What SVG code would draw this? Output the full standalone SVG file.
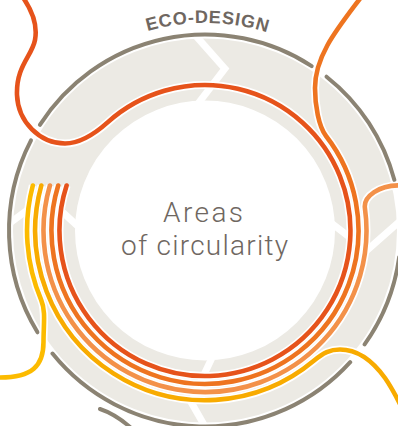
<svg xmlns="http://www.w3.org/2000/svg" width="398" height="426" viewBox="0 0 398 426">
<style>
.ring{fill:none;stroke:#ECEAE4;stroke-width:62}
.chev{fill:none;stroke:#FFFFFF;stroke-width:7;stroke-linejoin:miter}
.gray{fill:none;stroke:#8B8373;stroke-width:4;stroke-linecap:round}
.ln{fill:none;stroke-width:4.6;stroke-linecap:round}
.case{fill:none;stroke:#FFFFFF;stroke-width:8;stroke-linecap:butt}
.red{stroke:#E6531B}
.orange{stroke:#EE7420}
.lorange{stroke:#F39149}
.gold{stroke:#F8AB00}
.yellow{stroke:#FCBB00}
.eco{font-family:"Liberation Sans",Arial,sans-serif;font-weight:bold;font-size:18px;fill:#6F6761;letter-spacing:0.8px}
.title{font-family:Roboto,"Liberation Sans",sans-serif;font-weight:300;font-size:28px;fill:#6F6761;text-anchor:middle}
</style>
<defs>
<path id="ecoArc" d="M -2.5,230.5 A 207.5 207.5 0 0 1 412.5,230.5"/>
<polyline id="chevT" points="199.9,32.3 230.5,69.5 199.9,106.7"/>
<path id="pYellow" d="M 32.8,185.5 A 178 178 0 0 0 41.2,300 C 45.9,311 43.5,325 43.5,342 C 43.5,366 32,377.5 0,377.5 L -6,377.5"/>
<path id="pGold" d="M 41.3,185.5 A 169.8 169.8 0 0 0 314.1,360.6 C 323.3,352.9 330,349.5 340,349.5 C 358,349.5 372,360 385,378 C 392,388 397,398 402,408"/>
<path id="pLorange" d="M 404,185.5 C 378,184 363.5,197 364.9,208 A 161.5 161.5 0 1 1 49.9,185.5"/>
<path id="pOrange" d="M 362,-4 C 338,28 315,55 315,88 C 315,105 318.6,126.5 326,136 A 153.5 153.5 0 1 1 58.2,185.5"/>
<path id="pRed" d="M 22,-4 C 32,10 38,24 35,40 C 32,56 16,66 17,95 C 18,122 40,143.5 65,143.5 C 80,143.5 94.2,134.4 107.6,122.4 A 145.5 145.5 0 1 1 66.6,185.5"/>
</defs>
<rect width="398" height="426" fill="#FFFFFF"/>
<g id="ring">
<circle class="ring" cx="205" cy="230.5" r="161"/>
</g>
<g id="chevrons" class="chev">
<use href="#chevT" transform="rotate(-2 205 230.5)"/>
<use href="#chevT" transform="rotate(88 205 230.5)"/>
<polyline points="212.6,356.6 191,402 206,428.2"/>
<use href="#chevT" transform="rotate(273 205 230.5)"/>
</g>
<g id="outer-circle" class="gray">
<path d="M 39.9,124.9 A 196 196 0 0 1 311.7,66.1"/>
<path d="M 326.5,76.7 A 196 196 0 0 1 394.4,180.1"/>
<path d="M 399.1,257.4 A 196 196 0 0 1 364.6,344.3"/>
<path d="M 350.2,362.2 A 196 196 0 0 1 52.5,353.6"/>
<path d="M 37.5,332.3 A 196 196 0 0 1 31.0,140.3"/>
<path d="M 100,409 Q 115,414 130,427"/>
</g>
<g id="label-eco-design">
<text class="eco" text-anchor="middle"><textPath href="#ecoArc" startOffset="328.5">ECO-DESIGN</textPath></text>
</g>
<g id="center-title">
<text class="title" x="203" y="222" textLength="80" lengthAdjust="spacing">Areas</text>
<text class="title" x="204.5" y="255" textLength="167" lengthAdjust="spacing">of circularity</text>
</g>
<g id="connectors">
<g id="casings" class="case">
<use href="#pYellow"/>
<use href="#pGold"/>
<use href="#pLorange"/>
<use href="#pOrange"/>
<use href="#pRed"/>
</g>
<use class="ln yellow" href="#pYellow"/>
<use class="ln gold" href="#pGold"/>
<use class="ln lorange" href="#pLorange"/>
<use class="ln orange" href="#pOrange"/>
<use class="ln red" href="#pRed"/>
</g>
</svg>
